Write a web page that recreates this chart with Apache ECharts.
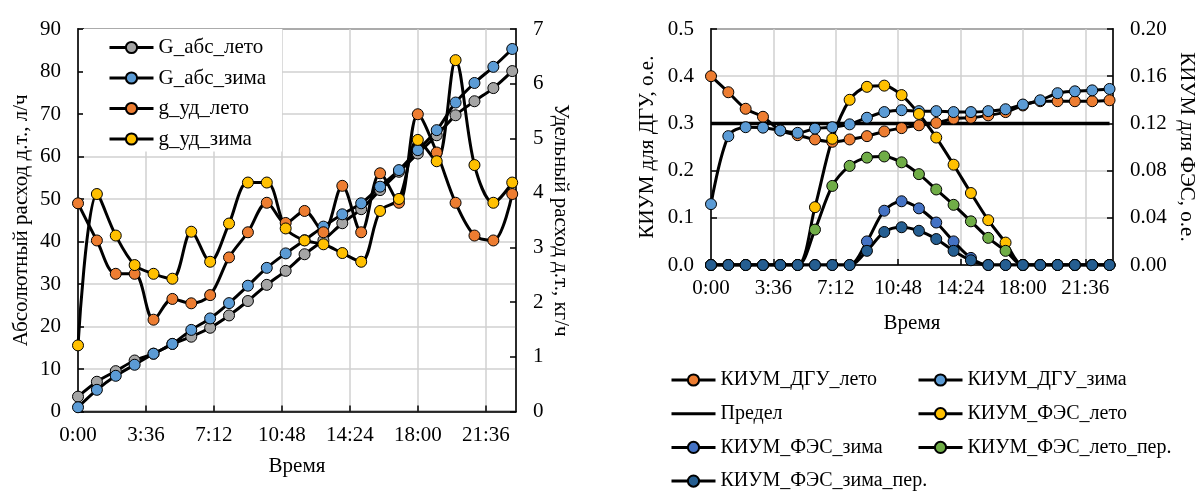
<!DOCTYPE html>
<html>
<head>
<meta charset="utf-8">
<script src="https://cdn.jsdelivr.net/npm/echarts/dist/echarts.min.js"></script>
<style>
  html, body { margin: 0; padding: 0; background: #fff; }
  #main { width: 1198px; height: 491px; }
</style>
</head>
<body>
<div id="main"></div>
<script>
// часы суток
var hours = [0, 1, 2, 3, 4, 5, 6, 7, 8, 9, 10, 11, 12, 13, 14, 15, 16, 17, 18, 19, 20, 21, 22, 23];

// левый график: расход д.т.
var gAbsLeto = [3.5, 7.0, 9.5, 12.0, 13.6, 15.9, 17.6, 19.7, 22.6, 26.0, 29.8, 33.1, 37.0, 40.3, 44.3, 47.6, 52.1, 56.4, 60.7, 65.0, 69.7, 73.0, 76.1, 80.1];
var gAbsZima = [1.0, 5.1, 8.4, 11.0, 13.6, 15.9, 19.2, 21.9, 25.5, 29.6, 33.8, 37.2, 40.3, 43.5, 46.4, 49.0, 52.9, 56.8, 61.5, 66.2, 72.7, 77.3, 81.1, 85.3];
var gUdLeto = [3.81, 3.13, 2.52, 2.52, 1.68, 2.06, 1.98, 2.13, 2.82, 3.28, 3.82, 3.45, 3.67, 3.28, 4.13, 3.28, 4.36, 3.82, 5.44, 4.74, 3.82, 3.22, 3.13, 3.98];
var gUdZima = [1.21, 3.98, 3.22, 2.68, 2.52, 2.43, 3.29, 2.74, 3.44, 4.19, 4.19, 3.35, 3.13, 3.06, 2.90, 2.74, 3.67, 3.89, 4.97, 4.58, 6.43, 4.51, 3.82, 4.19];

// правый график: КИУМ
var kiumDguLeto = [0.400, 0.366, 0.331, 0.314, 0.285, 0.275, 0.266, 0.261, 0.266, 0.273, 0.283, 0.290, 0.296, 0.301, 0.310, 0.312, 0.317, 0.324, 0.338, 0.347, 0.347, 0.347, 0.347, 0.349];
var kiumDguZima = [0.129, 0.273, 0.292, 0.291, 0.285, 0.280, 0.289, 0.292, 0.298, 0.312, 0.324, 0.328, 0.326, 0.326, 0.324, 0.324, 0.326, 0.330, 0.340, 0.349, 0.364, 0.368, 0.370, 0.373];
var predel = [0.3, 0.3, 0.3, 0.3, 0.3, 0.3, 0.3, 0.3, 0.3, 0.3, 0.3, 0.3, 0.3, 0.3, 0.3, 0.3, 0.3, 0.3, 0.3, 0.3, 0.3, 0.3, 0.3, 0.3];
var kiumFesLeto = [0, 0, 0, 0, 0, 0, 0.049, 0.107, 0.140, 0.151, 0.152, 0.144, 0.128, 0.108, 0.085, 0.061, 0.038, 0.019, 0, 0, 0, 0, 0, 0];
var kiumFesZima = [0, 0, 0, 0, 0, 0, 0, 0, 0, 0.020, 0.046, 0.054, 0.048, 0.036, 0.020, 0.006, 0, 0, 0, 0, 0, 0, 0, 0];
var kiumFesLetoPer = [0, 0, 0, 0, 0, 0, 0.030, 0.067, 0.084, 0.091, 0.092, 0.087, 0.077, 0.064, 0.051, 0.037, 0.023, 0.012, 0, 0, 0, 0, 0, 0];
var kiumFesZimaPer = [0, 0, 0, 0, 0, 0, 0, 0, 0, 0.012, 0.028, 0.032, 0.029, 0.022, 0.012, 0.004, 0, 0, 0, 0, 0, 0, 0, 0];

var FONT = 'Liberation Serif';
var FS = 21;
var GRIDLINE = '#D0D0D0';

function fmtTime(v) {
  var tm = Math.round(v * 60);
  var h = Math.floor(tm / 60);
  var m = tm % 60;
  return h + ':' + (m < 10 ? '0' : '') + m;
}

function pairs(arr) {
  return hours.map(function (h, i) { return [h, arr[i]]; });
}

function lineSeries(name, arr, color, xi, yi) {
  return {
    name: name,
    type: 'line',
    xAxisIndex: xi,
    yAxisIndex: yi,
    data: pairs(arr),
    smooth: 0.33,
    symbol: color ? 'circle' : 'none',
    symbolSize: 11,
    lineStyle: { color: '#000', width: color ? 3 : 3.5 },
    itemStyle: { color: color || '#000', borderColor: '#000', borderWidth: 1 },
    emphasis: { disabled: true }
  };
}

function xAxis(gi, gap) {
  return {
    type: 'value', gridIndex: gi, min: 0, max: 23.2, interval: 3.6,
    name: 'Время', nameLocation: 'middle', nameGap: gap,
    nameTextStyle: { fontFamily: FONT, fontSize: FS, color: '#000' },
    axisLine: { lineStyle: { color: '#000', width: 1.5 } },
    axisTick: { inside: true, length: 6, lineStyle: { color: '#000', width: 1.5 } },
    axisLabel: { formatter: fmtTime, showMaxLabel: false, margin: 13, fontFamily: FONT, fontSize: FS, color: '#000' },
    splitLine: { show: true, lineStyle: { color: GRIDLINE, width: 1.5 } }
  };
}

function yAxis(gi, pos, min, max, step, dec, name, gap, grid) {
  return {
    type: 'value', gridIndex: gi, position: pos, min: min, max: max, interval: step,
    name: name, nameLocation: 'middle', nameGap: gap, nameRotate: pos === 'left' ? 90 : -90,
    nameTextStyle: { fontFamily: FONT, fontSize: FS, color: '#000' },
    axisLine: { show: true, lineStyle: { color: '#000', width: 1.5 } },
    axisTick: { show: true, inside: true, length: 6, lineStyle: { color: '#000', width: 1.5 } },
    axisLabel: { margin: 17, fontFamily: FONT, fontSize: FS, color: '#000',
      formatter: function (v) { return v.toFixed(dec); } },
    splitLine: { show: grid, lineStyle: { color: GRIDLINE, width: 1.5 } }
  };
}

var legendTextL = { fontFamily: FONT, fontSize: 21, color: '#000', lineHeight: 20 };
var legendTextR = { fontFamily: FONT, fontSize: 20, color: '#000', lineHeight: 20 };
var noMarker = { color: 'rgba(0,0,0,0)', borderColor: 'rgba(0,0,0,0)', borderWidth: 0, opacity: 0 };

var chart = echarts.init(document.getElementById('main'), null, { renderer: 'canvas' });

var option = {
  animation: false,
  backgroundColor: '#fff',
  textStyle: { fontFamily: FONT },
  grid: [
    { left: 78, top: 29, width: 438, height: 382.5, show: true, borderColor: '#000', borderWidth: 1.5, backgroundColor: 'transparent' },
    { left: 711, top: 29, width: 405, height: 236, show: true, borderColor: '#000', borderWidth: 1.5, backgroundColor: 'transparent' }
  ],
  legend: [
    {
      data: ['G_абс_лето', 'G_абс_зима', 'g_уд_лето', 'g_уд_зима'],
      orient: 'vertical', left: 83, top: 29,
      backgroundColor: '#fff', padding: [8, 16, 2, 25],
      itemGap: 9.5, itemWidth: 44, itemHeight: 14,
      lineStyle: { width: 3 },
      textStyle: legendTextL
    },
    {
      data: ['КИУМ_ДГУ_лето', { name: 'Предел', itemStyle: noMarker }, 'КИУМ_ФЭС_зима', 'КИУМ_ФЭС_зима_пер.'],
      orient: 'vertical', left: 670, top: 370, height: 200, padding: 0,
      itemGap: 13.7, itemWidth: 44, itemHeight: 14,
      lineStyle: { width: 3 },
      textStyle: legendTextR
    },
    {
      data: ['КИУМ_ДГУ_зима', 'КИУМ_ФЭС_лето', 'КИУМ_ФЭС_лето_пер.'],
      orient: 'vertical', left: 917, top: 370, height: 200, padding: 0,
      itemGap: 13.7, itemWidth: 44, itemHeight: 14,
      lineStyle: { width: 3 },
      textStyle: legendTextR
    }
  ],
  xAxis: [xAxis(0, 44), xAxis(1, 48)],
  yAxis: [
    yAxis(0, 'left', 0, 90, 10, 0, 'Абсолютный расход д.т., л/ч', 46, true),
    yAxis(0, 'right', 0, 7, 1, 0, 'Удельный расход д.т., кг/ч', 34, false),
    yAxis(1, 'left', 0, 0.5, 0.1, 1, 'КИУМ для ДГУ, о.е.', 53, true),
    yAxis(1, 'right', 0, 0.2, 0.04, 2, 'КИУМ для ФЭС, о.е.', 63, false)
  ],
  series: [
    lineSeries('G_абс_лето', gAbsLeto, '#A5A5A5', 0, 0),
    lineSeries('G_абс_зима', gAbsZima, '#5B9BD5', 0, 0),
    lineSeries('g_уд_лето', gUdLeto, '#ED7D31', 0, 1),
    lineSeries('g_уд_зима', gUdZima, '#FFC000', 0, 1),

    lineSeries('КИУМ_ДГУ_лето', kiumDguLeto, '#ED7D31', 1, 2),
    lineSeries('КИУМ_ДГУ_зима', kiumDguZima, '#5B9BD5', 1, 2),
    lineSeries('Предел', predel, null, 1, 2),
    lineSeries('КИУМ_ФЭС_лето', kiumFesLeto, '#FFC000', 1, 3),
    lineSeries('КИУМ_ФЭС_зима', kiumFesZima, '#4472C4', 1, 3),
    lineSeries('КИУМ_ФЭС_лето_пер.', kiumFesLetoPer, '#70AD47', 1, 3),
    lineSeries('КИУМ_ФЭС_зима_пер.', kiumFesZimaPer, '#255E91', 1, 3)
  ]
};

chart.setOption(option);
</script>
</body>
</html>
